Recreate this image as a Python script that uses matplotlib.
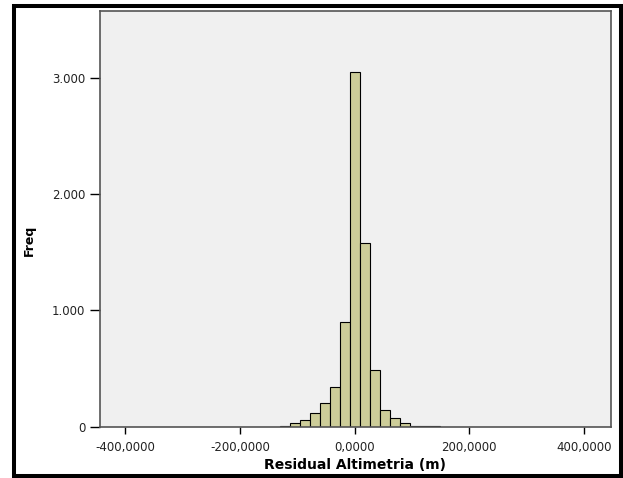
import numpy as np
import matplotlib
matplotlib.use("Agg")
import matplotlib.pyplot as plt
from matplotlib.patches import Rectangle
from matplotlib.ticker import FuncFormatter

# histogram of altimetry residuals
bin_edges = [-130.0, -112.6, -95.2, -77.8, -60.4, -43.0, -25.6, -8.2, 9.2,
             26.6, 44.0, 61.4, 78.8, 96.2, 113.6, 131.0, 148.4]
counts = [9, 32, 57, 115, 201, 344, 898, 3050, 1578, 490, 143, 72, 32, 7, 6, 5]
x_ticks = [-400, -200, 0, 200, 400]
y_ticks = [0, 1000, 2000, 3000]

plt.rcParams["font.family"] = ["DejaVu Sans"]

fig = plt.figure(figsize=(6.23, 4.78), dpi=100)
fig.patch.set_facecolor("white")

# thick black frame round the whole picture
fig.add_artist(Rectangle((14 / 623, 2 / 478), 607 / 623, 470 / 478,
                         transform=fig.transFigure, fill=False,
                         edgecolor="black", linewidth=2.9))

ax = fig.add_axes([100 / 623, 51.3 / 478, 511 / 623, 415.7 / 478])
ax.set_facecolor("#f0f0f0")

edges = np.array(bin_edges)
ax.bar(edges[:-1], counts, width=np.diff(edges), align="edge",
       color="#cdcd99", edgecolor="black", linewidth=0.8)

ax.set_xlim(-444, 447)
ax.set_ylim(0, 3577)
ax.set_xticks(x_ticks)
ax.set_yticks(y_ticks)
ax.xaxis.set_major_formatter(FuncFormatter(lambda v, p: f"{v:.4f}".replace(".", ",")))
ax.yaxis.set_major_formatter(FuncFormatter(lambda v, p: f"{v:,.0f}".replace(",", ".")))
ax.tick_params(axis="x", length=5, width=1, pad=5.5, labelsize=8.5, colors="black",
               labelcolor="#222222")
ax.tick_params(axis="y", length=7, width=1, pad=3.5, labelsize=8.5, colors="black",
               labelcolor="#222222")

for s in ax.spines.values():
    s.set_color("#555555")
    s.set_linewidth(1.2)

ax.set_xlabel("Residual Altimetria (m)", fontsize=10, fontweight="bold", labelpad=3)
fig.text(29 / 623, 1 - 240 / 478, "Freq", rotation=90, fontsize=9,
         fontweight="bold", ha="center", va="center")

fig.savefig("out.png", dpi=100)
